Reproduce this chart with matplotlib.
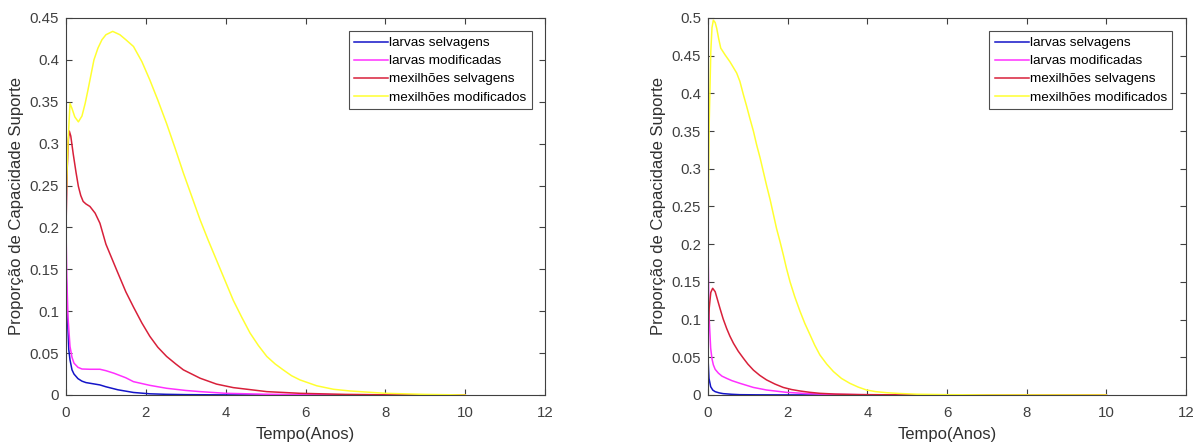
import matplotlib
matplotlib.use("Agg")
import matplotlib.pyplot as plt
from matplotlib.ticker import FuncFormatter

plt.rcParams['font.family'] = ['Liberation Sans', 'DejaVu Sans']

# cenario 1 (esquerda)
t_ls1 = [0, 0.03, 0.07, 0.1, 0.15, 0.2, 0.3, 0.4, 0.5, 0.7, 0.85, 1.0, 1.3, 1.69, 2.1, 2.5,
         3, 4, 6, 8, 10]
ls1 = [0.15, 0.10, 0.054, 0.042, 0.030, 0.025, 0.0195, 0.0165, 0.0148, 0.0132, 0.012, 0.0098,
       0.0062, 0.003, 0.0014, 0.0008, 0.0004, 0.0001, 0.0, 0.0, 0.0]

t_lm1 = [0, 0.02, 0.05, 0.1, 0.15, 0.2, 0.3, 0.4, 0.6, 0.85, 1.0, 1.2, 1.5, 1.69, 2.1, 2.52,
         3, 3.36, 4, 5, 6, 8, 10]
lm1 = [0.2, 0.14, 0.093, 0.058, 0.045, 0.038, 0.033, 0.031, 0.0307, 0.0307, 0.029, 0.026,
       0.0205, 0.0159, 0.0115, 0.008, 0.0054, 0.004, 0.002, 0.0009, 0.0004, 0.0, 0.0]

t_ms1 = [0, 0.03, 0.06, 0.083, 0.12, 0.18, 0.25, 0.31, 0.37, 0.43, 0.5, 0.6, 0.73, 0.85, 1.0,
         1.27, 1.5, 1.69, 1.9, 2.1, 2.3, 2.52, 2.75, 2.94, 3.15, 3.36, 3.77, 4.19, 5.03, 5.86,
         7, 8, 10]
ms1 = [0.2, 0.27, 0.305, 0.315, 0.309, 0.288, 0.266, 0.249, 0.238, 0.231, 0.228, 0.225,
       0.217, 0.205, 0.180, 0.149, 0.123, 0.105, 0.086, 0.070, 0.057, 0.046, 0.037, 0.030,
       0.025, 0.020, 0.013, 0.0088, 0.004, 0.002, 0.0007, 0.0002, 0.0]

t_mm1 = [0, 0.05, 0.1, 0.15, 0.22, 0.31, 0.4, 0.48, 0.55, 0.6, 0.7, 0.8, 0.9, 1.0, 1.17,
         1.35, 1.5, 1.69, 1.9, 2.1, 2.3, 2.52, 2.73, 2.94, 3.15, 3.36, 3.56, 3.77, 3.98, 4.19,
         4.4, 4.61, 4.82, 5.03, 5.24, 5.44, 5.65, 5.86, 6.28, 6.7, 7.11, 8, 9, 10]
mm1 = [0.231, 0.30, 0.348, 0.342, 0.332, 0.326, 0.333, 0.348, 0.364, 0.376, 0.400, 0.414,
       0.424, 0.430, 0.434, 0.430, 0.424, 0.416, 0.398, 0.376, 0.352, 0.324, 0.295, 0.265,
       0.237, 0.209, 0.185, 0.161, 0.137, 0.113, 0.093, 0.074, 0.059, 0.046, 0.037, 0.030,
       0.023, 0.018, 0.011, 0.0068, 0.0048, 0.002, 0.0007, 0.0]

# cenario 2 (direita)
t_ls2 = [0, 0.025, 0.067, 0.12, 0.18, 0.28, 0.38, 0.6, 0.8, 1.2, 2, 4, 10]
ls2 = [0.049, 0.022, 0.011, 0.0065, 0.0044, 0.0028, 0.0018, 0.0009, 0.0004, 0.0002, 0.0001,
       0.0, 0.0]

t_lm2 = [0, 0.025, 0.067, 0.1, 0.134, 0.18, 0.26, 0.35, 0.47, 0.6, 0.8, 1.14, 1.47, 1.97,
         2.5, 3, 4, 5, 10]
lm2 = [0.199, 0.106, 0.062, 0.048, 0.040, 0.034, 0.029, 0.025, 0.022, 0.019, 0.0155, 0.010,
       0.0066, 0.0035, 0.0018, 0.0009, 0.0003, 0.0001, 0.0]

t_ms2 = [0, 0.03, 0.07, 0.117, 0.18, 0.24, 0.30, 0.38, 0.47, 0.55, 0.64, 0.76, 0.89, 1.0,
         1.14, 1.3, 1.47, 1.68, 1.89, 2.1, 2.31, 2.56, 2.81, 3.2, 3.8, 5, 10]
ms2 = [0.08, 0.115, 0.136, 0.1415, 0.137, 0.126, 0.115, 0.101, 0.088, 0.078, 0.0685, 0.058,
       0.0486, 0.041, 0.033, 0.026, 0.020, 0.0145, 0.010, 0.0072, 0.0053, 0.0035, 0.0022,
       0.0012, 0.0005, 0.0001, 0.0]

t_mm2 = [0, 0.03, 0.07, 0.1, 0.134, 0.18, 0.22, 0.27, 0.32, 0.43, 0.55, 0.63, 0.72, 0.8, 0.89,
         0.97, 1.05, 1.14, 1.22, 1.31, 1.39, 1.47, 1.56, 1.64, 1.72, 1.81, 1.89, 1.97, 2.06,
         2.18, 2.31, 2.43, 2.56, 2.68, 2.81, 2.98, 3.15, 3.35, 3.56, 3.77, 3.98, 4.2, 4.49,
         4.8, 5.24, 6, 7, 10]
mm2 = [0.203, 0.36, 0.455, 0.487, 0.497, 0.494, 0.486, 0.472, 0.460, 0.451, 0.442, 0.435,
       0.427, 0.416, 0.398, 0.383, 0.367, 0.350, 0.332, 0.314, 0.296, 0.278, 0.259, 0.240,
       0.221, 0.203, 0.186, 0.168, 0.150, 0.130, 0.111, 0.095, 0.080, 0.066, 0.053, 0.041,
       0.031, 0.022, 0.0155, 0.0105, 0.0066, 0.0045, 0.003, 0.002, 0.001, 0.0004, 0.0001, 0.0]

nomes = ['larvas selvagens', 'larvas modificadas', 'mexilhões selvagens', 'mexilhões modificados']
cores = ['#1414c8', '#ff30ff', '#d8203a', '#ffff30']

fig = plt.figure(figsize=(12, 4.45), dpi=100)
ax1 = fig.add_axes([0.055, 0.1124, 0.3992, 0.8472])
ax2 = fig.add_axes([0.59, 0.1124, 0.3983, 0.8472])

cen1 = [(t_ls1, ls1), (t_lm1, lm1), (t_ms1, ms1), (t_mm1, mm1)]
cen2 = [(t_ls2, ls2), (t_lm2, lm2), (t_ms2, ms2), (t_mm2, mm2)]

for ax, dados, ymax, yticks in [(ax1, cen1, 0.45, [i * 0.05 for i in range(10)]),
                                (ax2, cen2, 0.5, [i * 0.05 for i in range(11)])]:
    for (t, y), nome, cor in zip(dados, nomes, cores):
        ax.plot(t, y, color=cor, lw=1.1, label=nome)
    ax.set_xlim(0, 12)
    ax.set_ylim(0, ymax)
    ax.set_xticks(range(0, 13, 2))
    ax.set_yticks(yticks)
    ax.yaxis.set_major_formatter(FuncFormatter(lambda v, p: '%g' % round(v, 2)))
    ax.tick_params(direction='in', top=True, right=True, labelsize=10.8,
                   colors='#404040', length=4, width=0.8)
    ax.tick_params(axis='x', pad=8)
    ax.tick_params(axis='y', pad=5)
    for s in ax.spines.values():
        s.set_color('#404040')
        s.set_linewidth(0.8)
    ax.set_xlabel('Tempo(Anos)', fontsize=12, color='#303030', labelpad=5)
    ax.set_ylabel('Proporção de Capacidade Suporte', fontsize=12, color='#303030', labelpad=4)
    leg = ax.legend(loc='upper right', fontsize=9.7, frameon=True, fancybox=False,
                    edgecolor='#202020', handlelength=2.5, handletextpad=0.1,
                    borderpad=0.4, labelspacing=0.42, borderaxespad=1.0)
    leg.get_frame().set_linewidth(0.8)

fig.savefig('out.png', dpi=100)
